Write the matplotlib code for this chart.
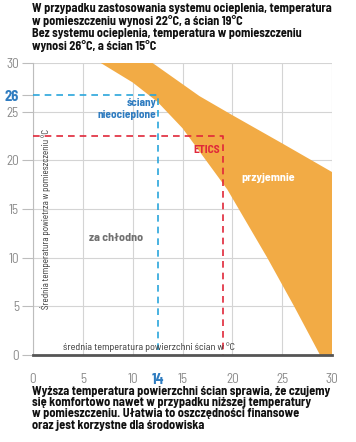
import numpy as np
import matplotlib.pyplot as plt

# band "przyjemnie" - edges (x = wall temp, y = air temp)
lower_x = [6.8, 10.0, 12.5, 15.0, 17.0, 19.5, 23.5, 26.2, 28.8]
lower_y = [30.0, 28.0, 26.0, 23.3, 20.5, 17.0, 10.0, 5.0, 0.0]
upper_x = [12.0, 16.7, 19.9, 24.9, 30.0, 30.0]
upper_y = [30.0, 26.6, 24.7, 21.8, 18.8, 0.0]

# reference points
sciany_x, sciany_y = 12.5, 26.7   # labelled 14 / 26
etics_x, etics_y = 19.1, 22.5

ticks = [0, 5, 10, 15, 20, 25, 30]

title = ("W przypadku zastosowania systemu ocieplenia, temperatura\n"
         "w pomieszczeniu wynosi 22°C, a ścian 19°C\n"
         "Bez systemu ocieplenia, temperatura w pomieszczeniu\n"
         "wynosi 26°C, a ścian 15°C")
footer = ("Wyższa temperatura powierzchni ścian sprawia, że czujemy\n"
          "się komfortowo nawet w przypadku niższej temperatury\n"
          "w pomieszczeniu. Ułatwia to oszczędności finansowe\n"
          "oraz jest korzystne dla środowiska")

orange = '#f2ab45'
blue = '#2aa6dc'
dblue = '#2f7cc0'
red = '#e0283a'
grey = '#8a8a8a'

plt.rcParams['font.family'] = ['Barlow Semi Condensed', 'DejaVu Sans']

fig = plt.figure(figsize=(3.56, 4.42), dpi=100)
ax = fig.add_axes([33 / 356, 1 - 355 / 442, 299 / 356, 292 / 442])

px = lower_x + upper_x[::-1]
py = lower_y + upper_y[::-1]
ax.fill(px, py, color=orange, lw=0, zorder=1)

ax.set_xlim(0, 30)
ax.set_ylim(0, 30)
for t in ticks:
    ax.axvline(t, color='#d4d4d4', lw=0.8, zorder=0)
    ax.axhline(t, color='#d4d4d4', lw=0.8, zorder=0)

# dashed guides
ax.plot([0, sciany_x, sciany_x], [sciany_y, sciany_y, 0], color=blue,
        ls=(0, (4, 3)), lw=1.2, zorder=3)
ax.plot([0, etics_x, etics_x], [etics_y, etics_y, 0], color=red,
        ls=(0, (4, 3)), lw=1.2, zorder=3)

for s in ['top', 'right']:
    ax.spines[s].set_visible(False)
ax.spines['left'].set_color('#bdbdbd')
ax.spines['left'].set_linewidth(0.8)
ax.spines['bottom'].set_color('#555555')
ax.spines['bottom'].set_linewidth(2)
ax.spines['bottom'].set_zorder(4)

ax.set_xticks(ticks + [sciany_x])
ax.set_xticklabels([str(t) for t in ticks] + ['14'])
ax.set_yticks(ticks + [sciany_y])
ax.set_yticklabels([str(t) for t in ticks] + ['26'])
ax.tick_params(axis='x', length=0, pad=13, labelsize=9.5, labelcolor=grey)
ax.tick_params(axis='y', length=8, width=0.8, color='#bdbdbd', pad=2,
               labelsize=9.5, labelcolor=grey)
for lab in [ax.get_xticklabels()[-1], ax.get_yticklabels()[-1]]:
    lab.set_color(dblue)
    lab.set_fontweight('bold')
    lab.set_fontsize(10.5)

# annotations
ax.text(sciany_x - 0.1, 25.3, 'ściany\nnieocieplone', color=dblue, fontsize=8.2,
        fontweight='bold', ha='right', va='center', linespacing=1.25, zorder=5)
ax.text(etics_x - 0.3, 21.1, 'ETICS', color=red, fontsize=8.2,
        fontweight='bold', ha='right', va='center', zorder=5)
ax.text(23.6, 18.2, 'przyjemnie', color='white', fontsize=8.7,
        fontweight='bold', ha='center', va='center', zorder=5)
ax.text(8.3, 12.0, 'za chłodno', color='#707070', fontsize=8.7,
        fontweight='bold', ha='center', va='center', zorder=5)
ax.text(1.25, 14.0, 'Średnia temperatura powietrza w pomieszczeniu °C',
        rotation=90, color='#333333', fontsize=6.5, ha='center', va='center',
        zorder=5)
ax.text(11.6, 0.85, 'średnia temperatura powierzchni ścian w °C',
        color='#333333', fontsize=7.3, ha='center', va='center', zorder=5)

fig.text(32 / 356, 1 - 3 / 442, title, fontsize=8.8, fontweight='bold',
         ha='left', va='top', linespacing=1.1, color='#111111')
fig.text(32 / 356, 1 - 386 / 442, footer, fontsize=8.9, fontweight='bold',
         ha='left', va='top', linespacing=1.02, color='#111111')

fig.savefig('out.png', dpi=100)
